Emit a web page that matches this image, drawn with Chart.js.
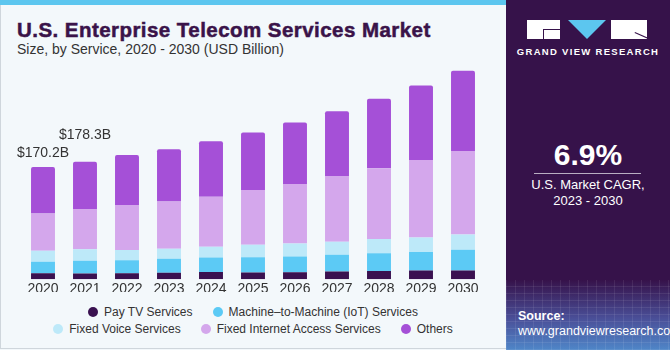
<!DOCTYPE html>
<html>
<head>
<meta charset="utf-8">
<script src="https://cdn.jsdelivr.net/npm/chart.js@4.4.1/dist/chart.umd.min.js"></script>
<style>
  html, body { margin: 0; padding: 0; }
  body { width: 670px; height: 350px; position: relative; overflow: hidden; background: #f3f8fb; font-family: "Liberation Sans", Arial, sans-serif; }
  #frame { position: absolute; left: 0; top: 0; width: 669px; height: 349px; border-left: 1px solid #cfd6dc; border-bottom: 1px solid #cfd6dc; box-sizing: border-box; }
  #topbar { position: absolute; left: 0; top: 0; width: 506px; height: 5px; background: #5cc6ef; }
  #title { position: absolute; left: 17px; top: 18px; font-size: 20.5px; font-weight: bold; color: #3a1349; white-space: nowrap; letter-spacing: 0.45px; -webkit-text-stroke: 0.5px #3a1349; }
  #subtitle { position: absolute; left: 17px; top: 41px; font-size: 14px; color: #333; white-space: nowrap; }
  #chartBox { position: absolute; left: 0; top: 0; width: 506px; height: 292px; }
  #legend { position: absolute; left: 0; top: 303px; width: 506px; font-size: 12px; color: #333; }
  .lrow { display: flex; justify-content: center; height: 17px; align-items: center; }
  .litem { display: flex; align-items: center; margin: 0 10px; white-space: nowrap; }
  .dot { width: 10px; height: 10px; border-radius: 50%; margin-right: 6px; }
  #panel { position: absolute; left: 506px; top: 0; width: 164px; height: 350px; background: #36124a; color: #fff; overflow: hidden; }
  #panelGrad { position: absolute; left: 0; top: 280px; width: 164px; height: 70px;
    background:
      repeating-linear-gradient(90deg, rgba(255,255,255,0.08) 0 1px, transparent 1px 9px),
      repeating-linear-gradient(0deg, rgba(255,255,255,0.08) 0 1px, transparent 1px 7px),
      linear-gradient(180deg, #36124a 0%, #4a4f98 55%, #4f86c8 100%); }
  #logo { position: absolute; left: 21px; top: 20px; width: 120px; height: 19px; }
  #logoG { position: absolute; left: 0; top: 0; width: 33px; height: 19px; background: #fff; }
  #logoGin { position: absolute; left: 16px; top: 9px; width: 17px; height: 10px; border-left: 1px solid #36124a; border-top: 1px solid #36124a; box-sizing: border-box; }
  #logoV { position: absolute; left: 41px; top: 0; width: 0; height: 0; border-left: 19px solid transparent; border-right: 19px solid transparent; border-top: 19px solid #5cc6ef; }
  #logoR { position: absolute; left: 84px; top: 0; width: 36px; height: 19px; background: #fff; overflow: hidden; }
  #logoRin { position: absolute; left: 24px; top: 12px; width: 14px; height: 1px; background: #36124a; transform: rotate(24deg); transform-origin: 0 0; }
  #gvr { position: absolute; left: 0; top: 46px; width: 164px; text-align: center; font-size: 9.5px; font-weight: bold; letter-spacing: 1.3px; }
  #cagr { position: absolute; left: 0; top: 138px; width: 164px; text-align: center; font-size: 30px; font-weight: bold; }
  #cagrLine { position: absolute; left: 28px; top: 173px; width: 107px; height: 1px; background: #b9aec2; }
  #cagrTxt { position: absolute; left: 0; top: 177px; width: 164px; text-align: center; font-size: 13px; line-height: 16px; }
  #src { position: absolute; left: 12px; top: 309px; font-size: 12.5px; line-height: 15px; }
</style>
</head>
<body>
<div id="frame"></div>
<div id="topbar"></div>
<div id="title">U.S. Enterprise Telecom Services Market</div>
<div id="subtitle">Size, by Service, 2020 - 2030 (USD Billion)</div>
<div id="chartBox"><canvas id="chart" width="506" height="292"></canvas></div>
<div id="legend"></div>
<div id="panel">
  <div id="panelGrad"></div>
  <div id="logo"><div id="logoG"><div id="logoGin"></div></div><div id="logoV"></div><div id="logoR"><div id="logoRin"></div></div></div>
  <div id="gvr">GRAND VIEW RESEARCH</div>
  <div id="cagr">6.9%</div>
  <div id="cagrLine"></div>
  <div id="cagrTxt">U.S. Market CAGR,<br>2023 - 2030</div>
  <div id="src"><b>Source:</b><br>www.grandviewresearch.com</div>
</div>
<script>
  // Data (USD Billion)
  var years = ["2020", "2021", "2022", "2023", "2024", "2025", "2026", "2027", "2028", "2029", "2030"];
  var payTv = [9.1, 8.5, 9.1, 9.6, 11.1, 10.0, 10.6, 11.6, 12.6, 13.1, 13.1];
  var m2m = [17.2, 19.3, 19.8, 21.3, 21.7, 23.4, 23.7, 25.4, 26.9, 28.0, 31.5];
  var fixedVoice = [16.7, 17.8, 15.2, 15.2, 16.3, 18.7, 19.8, 19.8, 21.3, 22.2, 23.3];
  var fixedInternet = [56.6, 61.0, 68.4, 71.9, 76.0, 83.1, 90.3, 99.8, 107.3, 117.6, 126.7];
  var others = [70.6, 71.7, 76.0, 79.0, 84.0, 87.1, 93.2, 98.2, 105.5, 112.9, 121.6];
  var totalLabels = ["$170.2B", "$178.3B"];

  var seriesNames = ["Pay TV Services", "Machine\u2013to-Machine (IoT) Services", "Fixed Voice Services", "Fixed Internet Access Services", "Others"];
  var seriesColors = ["#3a1150", "#5ccaf5", "#bde9f9", "#d4a7ec", "#a550d7"];
  var seriesData = [payTv, m2m, fixedVoice, fixedInternet, others];

  // Legend rows as laid out in the reference
  var legendRows = [[0, 1], [2, 3, 4]];
  var legendEl = document.getElementById("legend");
  legendRows.forEach(function (row) {
    var rowEl = document.createElement("div");
    rowEl.className = "lrow";
    row.forEach(function (i) {
      var item = document.createElement("div");
      item.className = "litem";
      var dot = document.createElement("span");
      dot.className = "dot";
      dot.style.background = seriesColors[i];
      var txt = document.createElement("span");
      txt.textContent = seriesNames[i];
      item.appendChild(dot);
      item.appendChild(txt);
      rowEl.appendChild(item);
    });
    legendEl.appendChild(rowEl);
  });

  // Total labels above the first bars
  var totalsPlugin = {
    id: "totals",
    afterDatasetsDraw: function (chart) {
      var ctx = chart.ctx;
      var meta = chart.getDatasetMeta(seriesData.length - 1);
      ctx.save();
      ctx.font = "14px 'Liberation Sans', Arial, sans-serif";
      ctx.fillStyle = "#333";
      ctx.textAlign = "center";
      ctx.textBaseline = "middle";
      totalLabels.forEach(function (label, i) {
        var bar = meta.data[i];
        ctx.fillText(label, bar.x, bar.y - 14 - i * 12);
      });
      ctx.restore();
    },
  };

  var datasets = seriesData.map(function (d, i) {
    var last = i === seriesData.length - 1;
    return {
      label: seriesNames[i],
      data: d,
      backgroundColor: seriesColors[i],
      borderWidth: 0,
      borderRadius: last ? { topLeft: 2, topRight: 2, bottomLeft: 0, bottomRight: 0 } : 0,
      borderSkipped: false,
      barPercentage: 0.57,
      categoryPercentage: 1,
    };
  });

  new Chart(document.getElementById("chart").getContext("2d"), {
    type: "bar",
    data: { labels: years, datasets: datasets },
    options: {
      responsive: false,
      animation: false,
      layout: { padding: { left: 22, right: 22, top: 55, bottom: 0 } },
      plugins: { legend: { display: false }, tooltip: { enabled: false } },
      scales: {
        x: {
          stacked: true,
          grid: { display: false },
          border: { display: false },
          ticks: { color: "#333", padding: -6, font: { size: 14, family: "'Liberation Sans', Arial, sans-serif" } },
        },
        y: { stacked: true, display: false, min: 0, max: 340 },
      },
    },
    plugins: [totalsPlugin],
  });
</script>
</body>
</html>
